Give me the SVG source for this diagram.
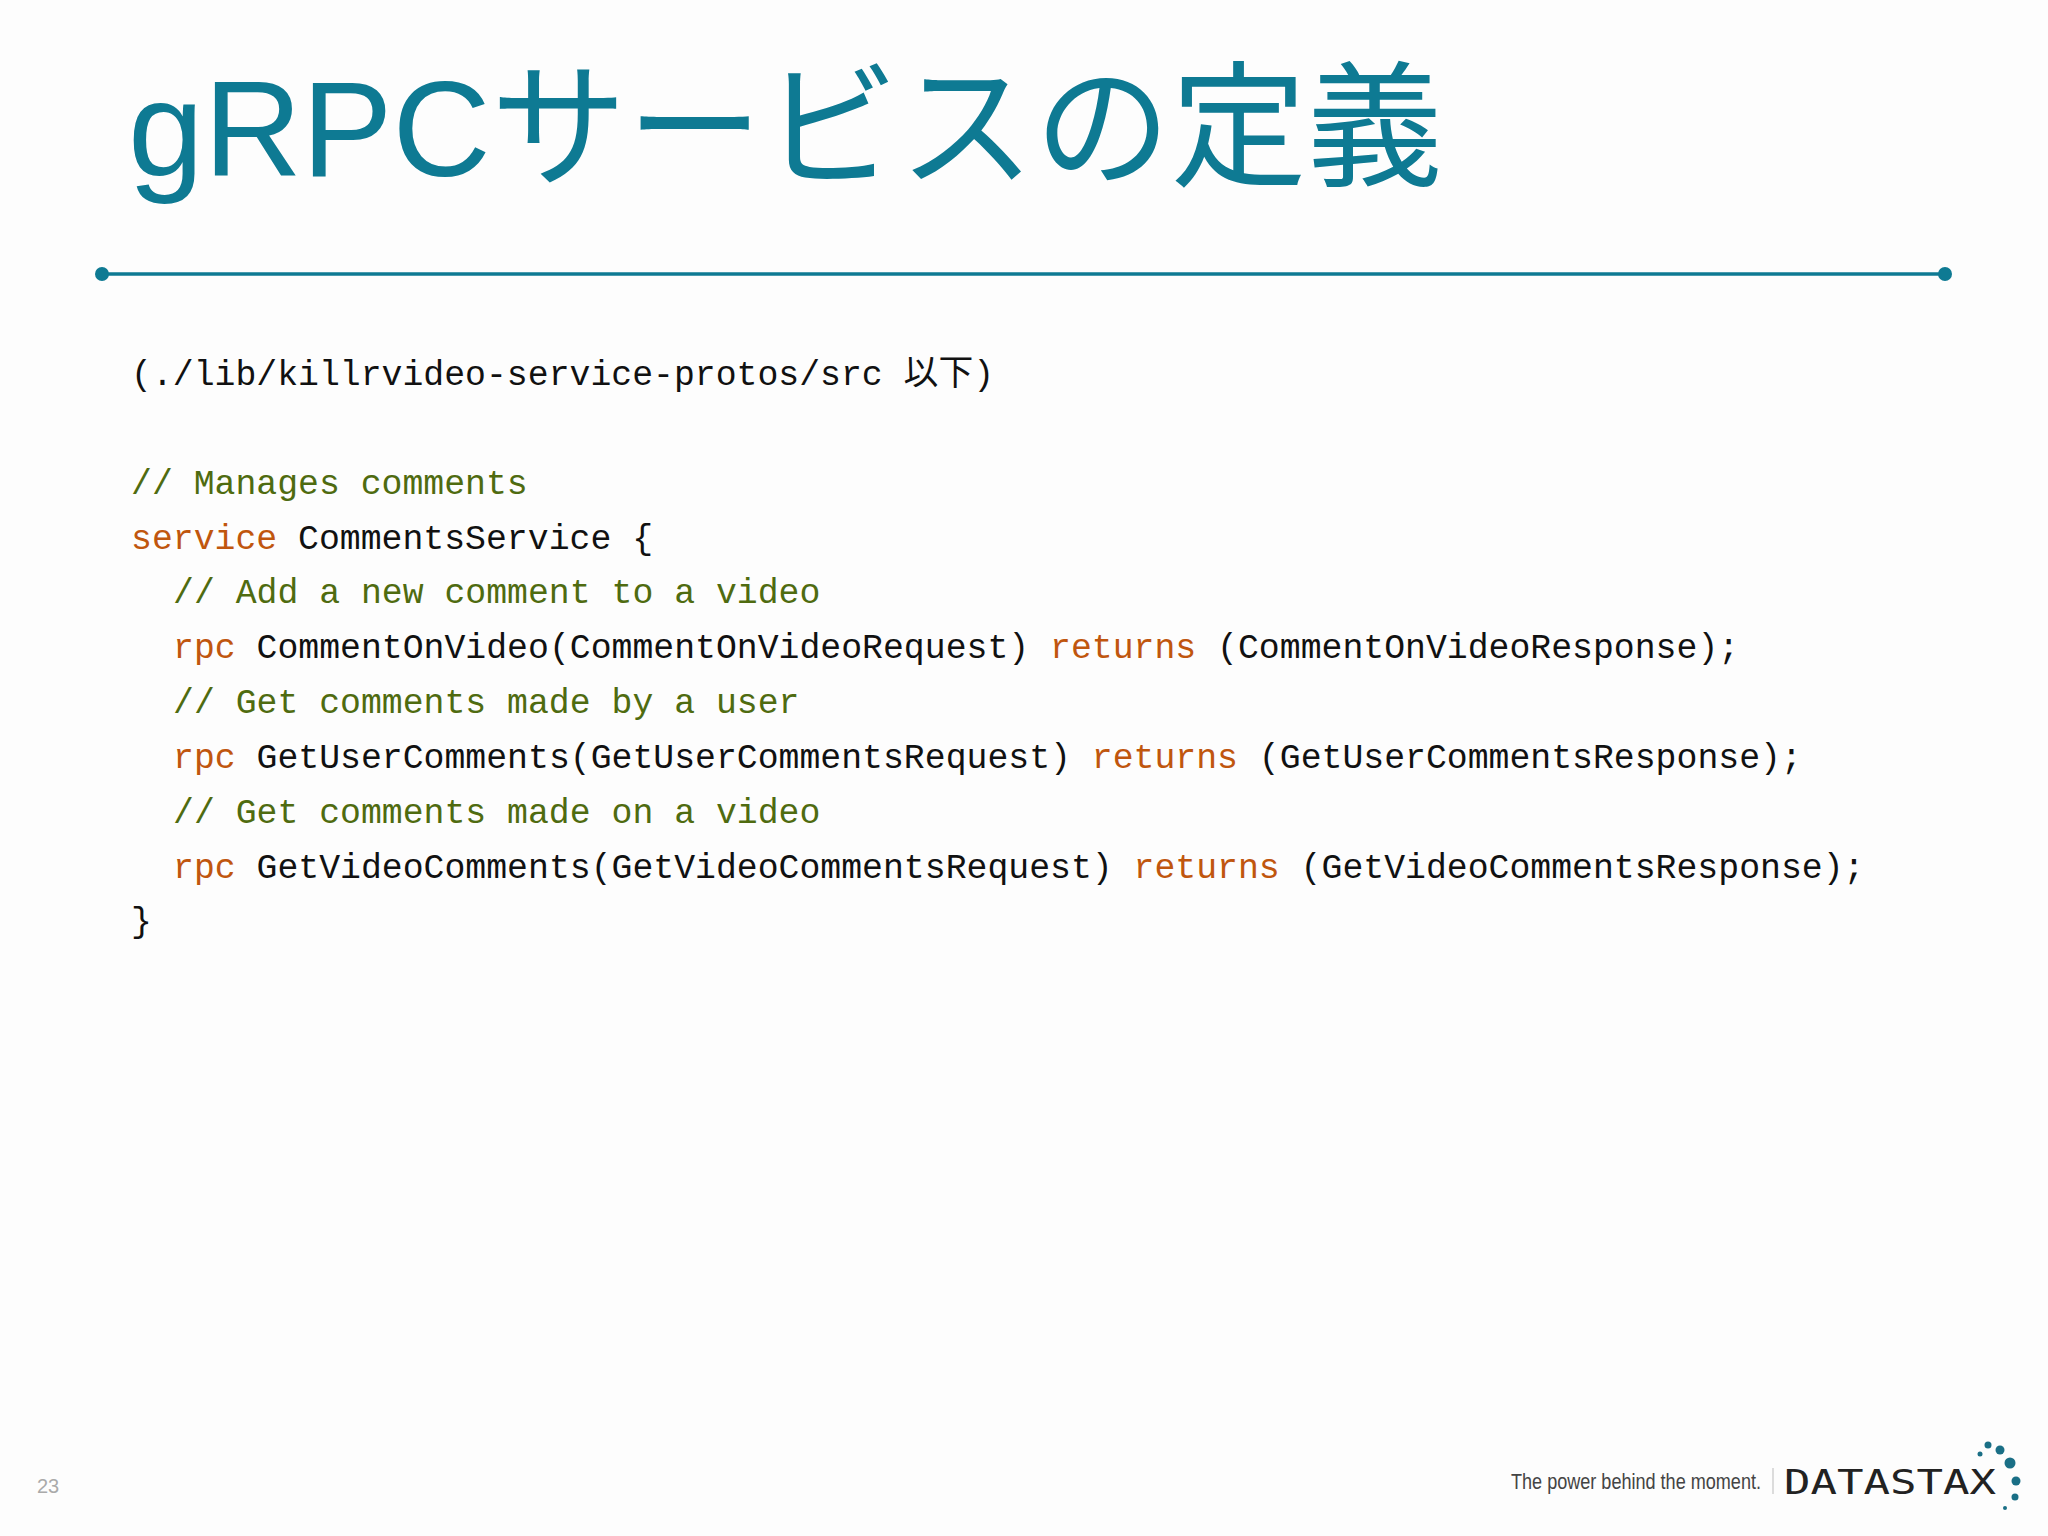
<svg xmlns="http://www.w3.org/2000/svg" width="2048" height="1536" viewBox="0 0 2048 1536">
<style>
.code text{font-family:"Liberation Mono","DejaVu Sans Mono","Noto Sans CJK JP",monospace;font-size:34.8px;fill:#111;white-space:pre}
.code .c{fill:#4f6b10}.code .k{fill:#c0560e}
</style>
<rect width="2048" height="1536" fill="#fdfdfd"/>
<g id="title"><text x="128" y="176" font-family="Liberation Sans,'Noto Sans CJK JP',sans-serif" font-size="136" fill="#0e7a93">gRPCサービスの定義</text></g>
<g id="rule" fill="#0e7a93"><line x1="102" y1="274" x2="1945" y2="274" stroke="#0e7a93" stroke-width="3.5"/><circle cx="102" cy="274" r="7"/><circle cx="1945" cy="274" r="7"/></g>
<g id="code" class="code">
<text x="131" y="385">(./lib/killrvideo-service-protos/src 以下)</text>
<text x="131" y="494" class="c">// Manages comments</text>
<text x="131" y="549"><tspan class="k">service</tspan> CommentsService {</text>
<text x="173" y="603" class="c">// Add a new comment to a video</text>
<text x="173" y="658"><tspan class="k">rpc</tspan> CommentOnVideo(CommentOnVideoRequest) <tspan class="k">returns</tspan> (CommentOnVideoResponse);</text>
<text x="173" y="713" class="c">// Get comments made by a user</text>
<text x="173" y="768"><tspan class="k">rpc</tspan> GetUserComments(GetUserCommentsRequest) <tspan class="k">returns</tspan> (GetUserCommentsResponse);</text>
<text x="173" y="823" class="c">// Get comments made on a video</text>
<text x="173" y="878"><tspan class="k">rpc</tspan> GetVideoComments(GetVideoCommentsRequest) <tspan class="k">returns</tspan> (GetVideoCommentsResponse);</text>
<text x="131" y="932">}</text>
</g>
<g id="footer">
<text x="37" y="1493" font-family="Liberation Sans,sans-serif" font-size="20" fill="#aaa">23</text>
<text x="1511" y="1489" font-family="Liberation Sans,sans-serif" font-size="22" fill="#444" textLength="250" lengthAdjust="spacingAndGlyphs">The power behind the moment.</text>
<line x1="1773" y1="1468" x2="1773" y2="1494" stroke="#bbb" stroke-width="1"/>
<text x="1784" y="1494" font-family="DejaVu Sans Mono,monospace" font-size="34" fill="#222" textLength="212" lengthAdjust="spacingAndGlyphs">DATASTAX</text>
<g fill="#1a6f86"><circle cx="1980" cy="1454" r="2.5"/><circle cx="1988" cy="1445" r="3.5"/><circle cx="2000" cy="1450" r="4.5"/><circle cx="2010" cy="1463" r="5.5"/><circle cx="2016" cy="1481" r="4.5"/><circle cx="2015" cy="1497" r="3.5"/><circle cx="2005" cy="1508" r="2"/></g>
</g>
</svg>
